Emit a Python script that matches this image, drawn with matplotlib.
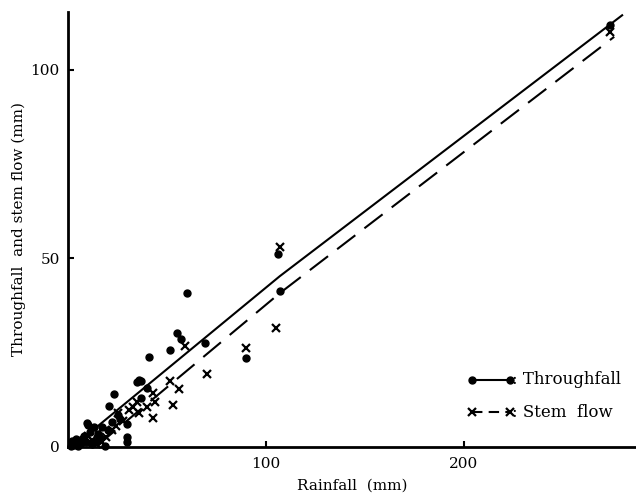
import matplotlib.pyplot as plt

# throughfall points (rainfall mm, throughfall mm)
tf_x = [274, 107, 106, 90, 69, 60, 57, 55, 51.5, 41, 37, 36, 35, 23, 20.7, 30, 30, 30,
        9.6, 10, 18.7, 40, 37, 25, 17, 13, 4, 6, 8, 3, 14, 16, 11,
        2, 5, 7, 12, 15, 20, 1.5, 9, 22, 26]
tf_y = [112, 41.4, 51.2, 23.6, 27.5, 40.8, 28.6, 30.2, 25.7, 23.9, 17.5, 17.8, 17.2, 14, 10.9, 6.1, 2.7, 1.3,
        6.4, 5.8, 0.2, 15.6, 13, 8.5, 5.3, 5.3, 2, 1, 3, 0.5, 1.5, 2.5, 4,
        1.5, 0.3, 2, 0.8, 3.5, 4.5, 0.2, 1.2, 6.5, 7.5]

# stem flow points
sf_x = [274, 107, 105, 90, 70, 59, 56, 53, 51.5, 43, 43, 44, 36, 31, 25, 22, 19, 15, 12, 6,
        35, 40, 28, 9, 14, 3, 17, 24, 33, 10]
sf_y = [110, 53, 31.5, 26.3, 19.3, 26.8, 15.4, 11.1, 17.5, 7.7, 14.3, 12, 9, 9.8, 9, 4.5, 2.7, 3.7, 1.9, 1,
        12, 10.5, 7, 2, 0.8, 0.5, 1.2, 5.5, 10.5, 3]

# fitted lines
tf_line_x = [8, 107, 280]
tf_line_y = [2.5, 45.3, 114.5]
sf_line_x = [15, 107, 276]
sf_line_y = [0.5, 40.8, 108.8]

plt.rcParams['font.family'] = ['DejaVu Serif']

fig = plt.figure(figsize=(6.36, 4.95), dpi=100)
ax = fig.add_axes([0.107, 0.097, 0.893, 0.879])

ax.plot(tf_line_x, tf_line_y, color='black', lw=1.5)
ax.plot(sf_line_x, sf_line_y, color='black', lw=1.5, dashes=(11, 5.5))
ax.plot(tf_x, tf_y, 'o', color='black', ms=5, clip_on=False)
ax.plot(sf_x, sf_y, 'x', color='black', ms=5.5, mew=1.6, clip_on=False)

ax.set_xlim(0, 287)
ax.set_ylim(0, 115.4)
ax.set_xticks([100, 200])
ax.set_yticks([0, 50, 100])
ax.tick_params(direction='in', length=4, width=1.5, labelsize=11)
ax.tick_params(axis='x', pad=7)
ax.tick_params(axis='y', pad=6)
for s in ['top', 'right']:
    ax.spines[s].set_visible(False)
for s in ['left', 'bottom']:
    ax.spines[s].set_linewidth(2)

ax.set_xlabel('Rainfall  (mm)', fontsize=11, labelpad=6)
ax.set_ylabel('Throughfall  and stem flow (mm)', fontsize=11, labelpad=3)

# hand-drawn style legend
tr = ax.transAxes
ax.plot([0.712, 0.778], [0.155, 0.155], '-', color='black', lw=1.5, transform=tr)
ax.plot([0.712, 0.778], [0.155, 0.155], 'o', color='black', ms=5, transform=tr)
ax.text(0.782, 0.155, ': Throughfall', transform=tr, va='center', fontsize=12)
ax.plot([0.712, 0.778], [0.08, 0.08], color='black', lw=1.5, dashes=(5, 3), transform=tr)
ax.plot([0.712, 0.778], [0.08, 0.08], 'x', color='black', ms=5.5, mew=1.6, transform=tr)
ax.text(0.782, 0.08, ': Stem  flow', transform=tr, va='center', fontsize=12)

fig.savefig('out.png', dpi=100)
